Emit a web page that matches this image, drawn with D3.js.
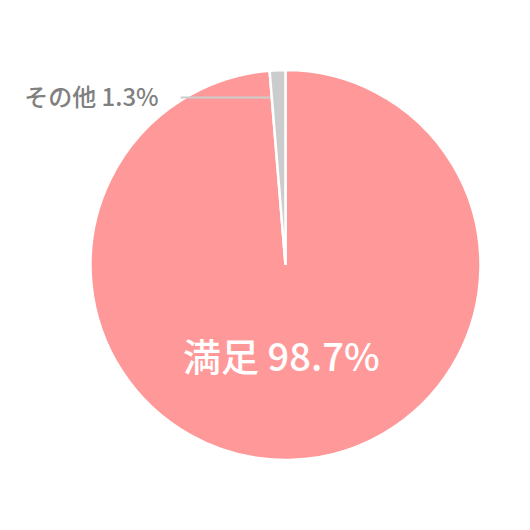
<!DOCTYPE html>
<html>
<head>
<meta charset="utf-8">
<script src="https://cdn.jsdelivr.net/npm/d3@7"></script>
<style>
  body { margin: 0; background: #fff; }
  text { font-family: "Noto Sans CJK JP", "Noto Sans", sans-serif; font-weight: 500; }
</style>
</head>
<body>
<div id="chart"></div>
<script>
// data
const labels = ["満足", "その他"];
const values = [98.7, 1.3];
const colors = ["#ff9999", "#cccccc"];

const width = 530, height = 530;
const cx = 285.5, cy = 265, radius = 195;

const svg = d3.select("#chart").append("svg")
    .attr("width", width)
    .attr("height", height);

const g = svg.append("g")
    .attr("transform", `translate(${cx},${cy})`);

const pie = d3.pie().sort(null).value(d => d.value);
const arcs = pie(labels.map((l, i) => ({ label: l, value: values[i], color: colors[i] })));

const arc = d3.arc().innerRadius(0).outerRadius(radius);
const outerPointArc = d3.arc().innerRadius(radius * 0.86).outerRadius(radius * 0.86);

g.selectAll("path.slice")
    .data(arcs)
    .enter()
    .append("path")
    .attr("class", "slice")
    .attr("d", arc)
    .attr("fill", d => d.data.color)
    .attr("stroke", "#fff")
    .attr("stroke-width", 2.5);

// leader line for the small slice, stops at the slice edge
const small = arcs[1];
const p = outerPointArc.centroid(small);
const edgeX = -p[1] * Math.tan(small.startAngle) - 1.5;
g.append("line")
    .attr("x1", edgeX)
    .attr("y1", p[1])
    .attr("x2", p[0] - 98)
    .attr("y2", p[1])
    .attr("stroke", "#cccccc")
    .attr("stroke-width", 2);

// main label
const big = arcs[0];
const c = d3.arc().innerRadius(0).outerRadius(radius * 0.955).centroid(big);
g.append("text")
    .attr("x", c[0] - 8)
    .attr("y", c[1])
    .attr("text-anchor", "middle")
    .attr("dy", "0.35em")
    .attr("fill", "#fff")
    .style("font-size", "38px")
    .text(`${big.data.label} ${big.data.value}%`);

// small slice label
g.append("text")
    .attr("x", p[0] - 98 - 22)
    .attr("y", p[1])
    .attr("dy", "0.35em")
    .attr("text-anchor", "end")
    .attr("fill", "#808080")
    .style("font-size", "24px")
    .text(`${small.data.label} ${small.data.value}%`);
</script>
</body>
</html>
